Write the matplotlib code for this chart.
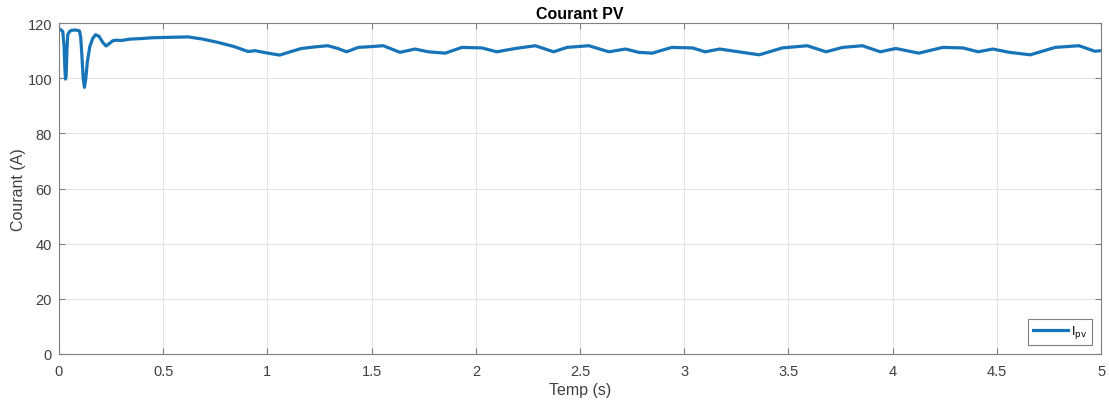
#!/usr/bin/env python3
"""Courant PV - PV current vs time (MATLAB-style figure)."""

import matplotlib
matplotlib.use("Agg")
import matplotlib.pyplot as plt

plt.rcParams["font.family"] = ["Liberation Sans", "DejaVu Sans"]

# --- data ---
temps = [0.0, 0.008, 0.018, 0.024, 0.028, 0.031, 0.034, 0.038, 0.042, 0.05, 0.06,
         0.08, 0.098, 0.104, 0.110, 0.116, 0.122, 0.128, 0.136, 0.148, 0.162,
         0.176, 0.192, 0.21, 0.226, 0.24, 0.258, 0.274, 0.3, 0.34, 0.394,
         0.45, 0.505, 0.56, 0.619, 0.69, 0.763, 0.84, 0.907, 0.94, 1.003,
         1.059, 1.11, 1.163, 1.23, 1.29, 1.338, 1.38, 1.436, 1.5, 1.556,
         1.636, 1.708, 1.772, 1.853, 1.933, 2.029, 2.1, 2.19, 2.285, 2.373,
         2.438, 2.542, 2.638, 2.718, 2.782, 2.846, 2.94, 3.04, 3.1, 3.17,
         3.26, 3.36, 3.47, 3.59, 3.68, 3.76, 3.855, 3.94, 4.015, 4.125,
         4.24, 4.337, 4.41, 4.48, 4.56, 4.66, 4.78, 4.894, 4.97, 5.0]
courant = [118.0, 117.6, 117.0, 112.0, 104.0, 99.7, 100.5, 110.0, 115.8, 116.9, 117.4,
           117.5, 117.2, 115.0, 108.0, 100.0, 96.7, 99.5, 106.0, 111.5, 114.5,
           115.8, 115.2, 113.0, 111.7, 112.5, 113.6, 113.8, 113.7, 114.2, 114.4,
           114.7, 114.8, 114.9, 115.0, 114.2, 113.0, 111.5, 109.7, 110.0, 109.1,
           108.4, 109.6, 110.8, 111.4, 111.8, 110.8, 109.6, 111.2, 111.5, 111.8,
           109.4, 110.6, 109.6, 109.1, 111.2, 111.0, 109.6, 110.8, 111.8, 109.6,
           111.2, 111.8, 109.6, 110.6, 109.4, 109.1, 111.2, 111.0, 109.6, 110.6,
           109.6, 108.5, 111.0, 111.8, 109.6, 111.2, 111.8, 109.6, 110.8, 109.1,
           111.2, 111.0, 109.6, 110.6, 109.4, 108.5, 111.2, 111.8, 109.8, 110.0]

x_ticks = [0, 0.5, 1, 1.5, 2, 2.5, 3, 3.5, 4, 4.5, 5]
x_labels = ["0", "0.5", "1", "1.5", "2", "2.5", "3", "3.5", "4", "4.5", "5"]
y_ticks = [0, 20, 40, 60, 80, 100, 120]

txt = "#404040"
edge = "#808080"

fig = plt.figure(figsize=(11.09, 4.02), dpi=100)
ax = fig.add_axes([0.0532, 0.117, 0.9397, 0.823])

ax.plot(temps, courant, color="#1874b8", linewidth=2.3, label=r"I$_{\rm pv}$")

ax.set_xlim(0, 5)
ax.set_ylim(0, 120)
ax.set_xticks(x_ticks)
ax.set_xticklabels(x_labels)
ax.set_yticks(y_ticks)
ax.grid(True, color="#e3e3e3", linewidth=0.8)
ax.set_axisbelow(True)
ax.tick_params(direction="in", length=4, colors=edge, labelcolor=txt, labelsize=10.5,
               top=True, right=True)
ax.tick_params(axis="x", pad=7)
ax.tick_params(axis="y", pad=5)
for sp in ax.spines.values():
    sp.set_color(edge)
    sp.set_linewidth(0.8)

ax.set_xlabel("Temp (s)", fontsize=11.5, color=txt, labelpad=3)
ax.set_ylabel("Courant (A)", fontsize=11.5, color=txt, labelpad=1)
ax.set_title("Courant PV", fontsize=11.5, fontweight="bold", color="black", pad=4)

leg = ax.legend(loc="lower right", fontsize=9, handlelength=2.8, handletextpad=0.3,
                fancybox=False, framealpha=1, borderaxespad=0.75, borderpad=0.35)
leg.get_frame().set_edgecolor(edge)
leg.get_frame().set_linewidth(0.8)

fig.savefig("out.png", dpi=100)
plt.close(fig)
